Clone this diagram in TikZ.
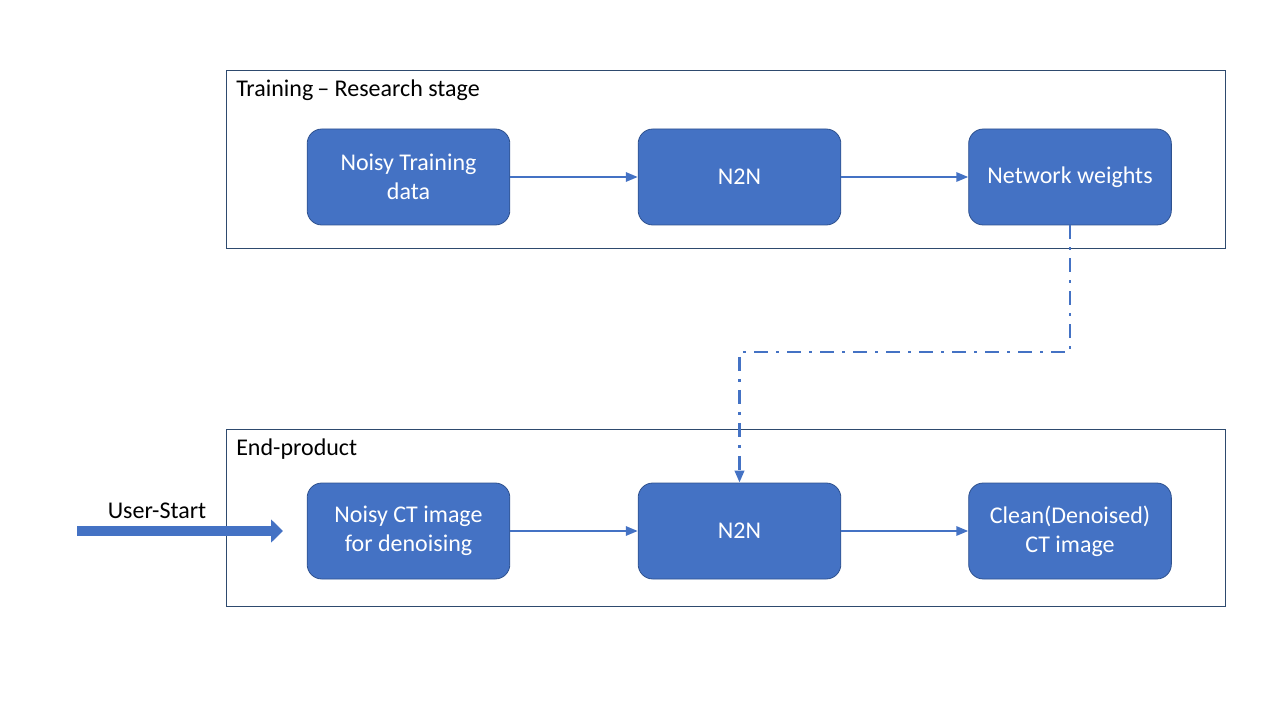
\documentclass[tikz,border=0pt]{standalone}
\usepackage{fontspec}
\setmainfont{Carlito}
\usetikzlibrary{arrows.meta, positioning}
\definecolor{boxblue}{HTML}{4472C4}
\definecolor{edgeblue}{HTML}{2F528F}
\definecolor{framecol}{HTML}{2E4A6E}
\tikzset{
  block/.style={
    draw=edgeblue,
    fill=boxblue,
    rectangle,
    rounded corners=11pt,
    minimum width=152pt,
    minimum height=72pt,
    align=center,
    text=white,
    line width=0.6pt,
    font=\fontsize{18}{22}\selectfont,
  },
  frame/.style={
    draw=framecol,
    rectangle,
    line width=0.75pt,
    minimum width=749.25pt,
    minimum height=132.75pt,
  },
  title/.style={
    anchor=west,
    inner sep=0pt,
    font=\fontsize{18}{22}\selectfont,
  },
  arrow/.style={
    -{Triangle[length=9pt,width=7pt]},
    draw=boxblue,
    line width=1.6pt
  },
  weightsline/.style={
    arrow,
    line width=2pt,
    dash pattern=on 10.5pt off 6pt on 2.25pt off 6pt
  },
  userarrow/.style={
    -{Triangle[length=9pt,width=17pt]},
    draw=boxblue,
    line width=7pt
  }
}
\begin{document}
\begin{tikzpicture}[x=0.75pt, y=-0.75pt]
\useasboundingbox (0,0) rectangle (1280,720);

% Training stage
\node[frame] (train) at (725.5,159.5) {};
\node[title] (traintitle) at (236,90) {Training\,– Research stage};
\node[block] (data) at (408.5,177) {Noisy Training\\data};
\node[block] (n2na) at (739.5,177) {N2N};
\node[block] (weights) at (1070,177) {Network weights};
\draw[arrow] (data) -- (n2na);
\draw[arrow] (n2na) -- (weights);

% End product
\node[frame] (prod) at (725.5,517.5) {};
\node[title] (prodtitle) at (236,449) {End-product};
\node[block] (ct) at (408.5,531) {Noisy CT image\\for denoising};
\node[block] (n2nb) at (739.5,531) {N2N};
\node[block] (clean) at (1070,531) {Clean(Denoised)\\CT image};
\draw[arrow] (ct) -- (n2nb);
\draw[arrow] (n2nb) -- (clean);

% weights go to the product
\coordinate (bend) at (739.5,352);
\draw[weightsline] (weights.south) |- (bend) -- (n2nb.north);

% user entry
\coordinate (user) at (77,531);
\coordinate (userend) at (283,531);
\draw[userarrow] (user) -- (userend);
\node[font=\fontsize{18}{22}\selectfont, inner sep=0pt] (userlabel) at (157,511) {User-Start};
\end{tikzpicture}
\end{document}
